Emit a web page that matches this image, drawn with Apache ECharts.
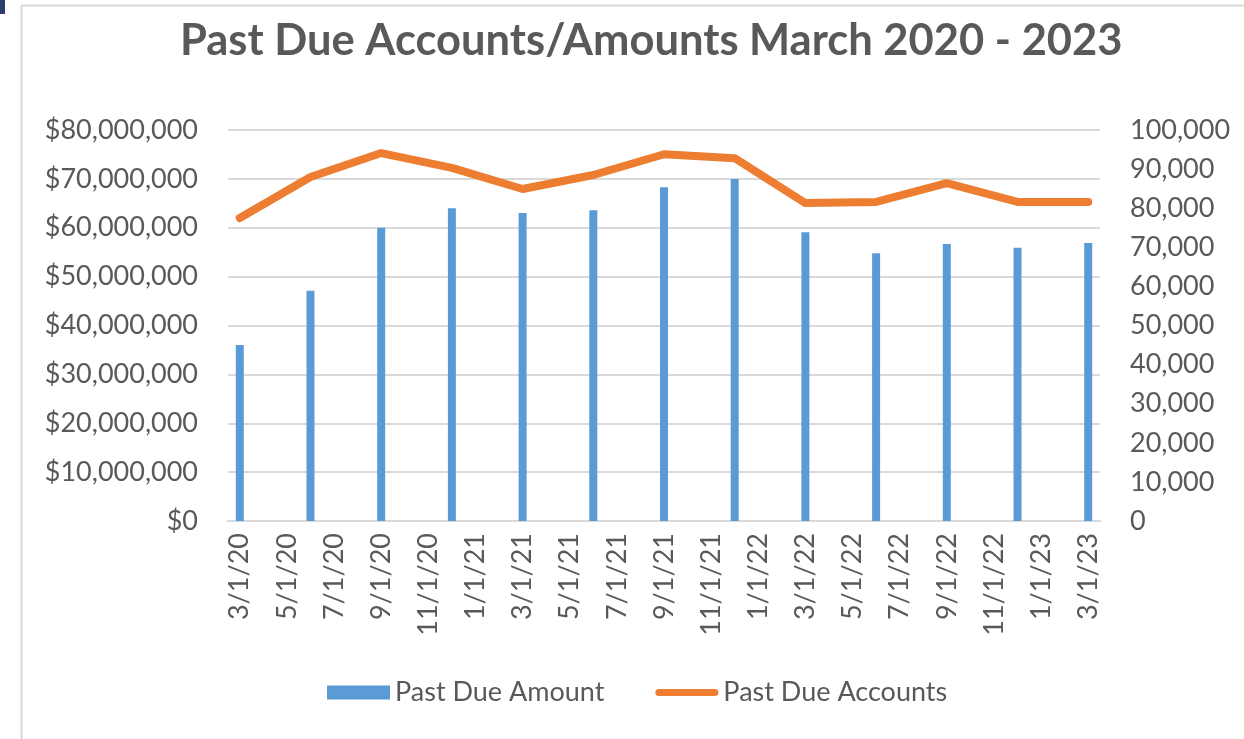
<!DOCTYPE html>
<html>
<head>
<meta charset="utf-8">
<script src="https://cdn.jsdelivr.net/npm/echarts@6/dist/echarts.min.js"></script>
<style>
  html, body { margin: 0; padding: 0; background: #fff; }
  #main { width: 1244px; height: 739px; }
</style>
</head>
<body>
<div id="main"></div>
<script>
// quarterly observations
var quarterDates = ["3/1/20", "6/1/20", "9/1/20", "12/1/20", "3/1/21", "6/1/21", "9/1/21",
  "12/1/21", "3/1/22", "6/1/22", "9/1/22", "12/1/22", "3/1/23"];
var pastDueAmount = [36000000, 47100000, 60000000, 64000000, 63000000, 63600000, 68300000,
  70000000, 59100000, 54800000, 56700000, 55900000, 56900000];
var pastDueAccounts = [77500, 88000, 94100, 90300, 84900, 88500, 93800,
  92800, 81300, 81600, 86400, 81600, 81600];

// monthly date axis, Mar 2020 .. Mar 2023
var months = [];
for (var i = 0; i < 37; i++) {
  var m = (2 + i) % 12 + 1;
  var y = 20 + Math.floor((2 + i) / 12);
  months.push(m + "/1/" + y);
}

var textColor = "#595959";
var gridColor = "#D9D9D9";
var labelFont = "Lato";

var chart = echarts.init(document.getElementById("main"));

var option = {
  animation: false,
  title: {
    text: "Past Due Accounts/Amounts March 2020 - 2023",
    left: 175,
    top: 14,
    textStyle: {
      color: textColor,
      fontFamily: labelFont,
      fontWeight: "bold",
      fontSize: 43.5
    }
  },
  graphic: [
    { type: "line", shape: { x1: 21.5, y1: 5, x2: 21.5, y2: 739 }, style: { stroke: gridColor, lineWidth: 2 } },
    { type: "line", shape: { x1: 21, y1: 5.5, x2: 1244, y2: 5.5 }, style: { stroke: gridColor, lineWidth: 2 } },
    { type: "rect", shape: { x: 0, y: 0, width: 5, height: 14 }, style: { fill: "#2F3F6B" } }
  ],
  grid: {
    left: 228,
    right: 144,
    top: 130,
    bottom: 218
  },
  legend: {
    bottom: 28,
    left: 322,
    itemWidth: 63,
    itemHeight: 14,
    itemGap: 51,
    textStyle: { color: textColor, fontFamily: labelFont, fontSize: 27 },
    data: [
      { name: "Past Due Amount", icon: "rect" },
      { name: "Past Due Accounts", icon: "path://M4,0 H68 A4,4 0 0 1 68,8 H4 A4,4 0 0 1 4,0 Z" }
    ]
  },
  xAxis: {
    type: "category",
    data: months,
    boundaryGap: true,
    axisLine: { lineStyle: { color: gridColor, width: 2 } },
    axisTick: { interval: 1, length: 7, lineStyle: { color: gridColor, width: 2 } },
    axisLabel: {
      interval: 1,
      rotate: 90,
      margin: 12,
      color: textColor,
      fontFamily: labelFont,
      fontSize: 27
    }
  },
  yAxis: [
    {
      type: "value",
      min: 0,
      max: 80000000,
      interval: 10000000,
      axisLine: { show: false },
      axisTick: { show: false },
      splitLine: { lineStyle: { color: gridColor, width: 2 } },
      axisLabel: {
        margin: 30,
        color: textColor,
        fontFamily: labelFont,
        fontSize: 27,
        formatter: function (v) { return "$" + v.toLocaleString("en-US"); }
      }
    },
    {
      type: "value",
      min: 0,
      max: 100000,
      interval: 10000,
      axisLine: { show: false },
      axisTick: { show: false },
      splitLine: { show: false },
      axisLabel: {
        margin: 30,
        color: textColor,
        fontFamily: labelFont,
        fontSize: 27,
        formatter: function (v) { return v.toLocaleString("en-US"); }
      }
    }
  ],
  series: [
    {
      name: "Past Due Amount",
      type: "bar",
      yAxisIndex: 0,
      barWidth: 8,
      itemStyle: { color: "#5B9BD5" },
      data: quarterDates.map(function (d, k) { return [d, pastDueAmount[k]]; })
    },
    {
      name: "Past Due Accounts",
      type: "line",
      yAxisIndex: 1,
      symbol: "none",
      itemStyle: { color: "#ED7D31" },
      lineStyle: { color: "#ED7D31", width: 8, cap: "round", join: "round" },
      data: quarterDates.map(function (d, k) { return [d, pastDueAccounts[k]]; })
    }
  ]
};

chart.setOption(option);
</script>
</body>
</html>
